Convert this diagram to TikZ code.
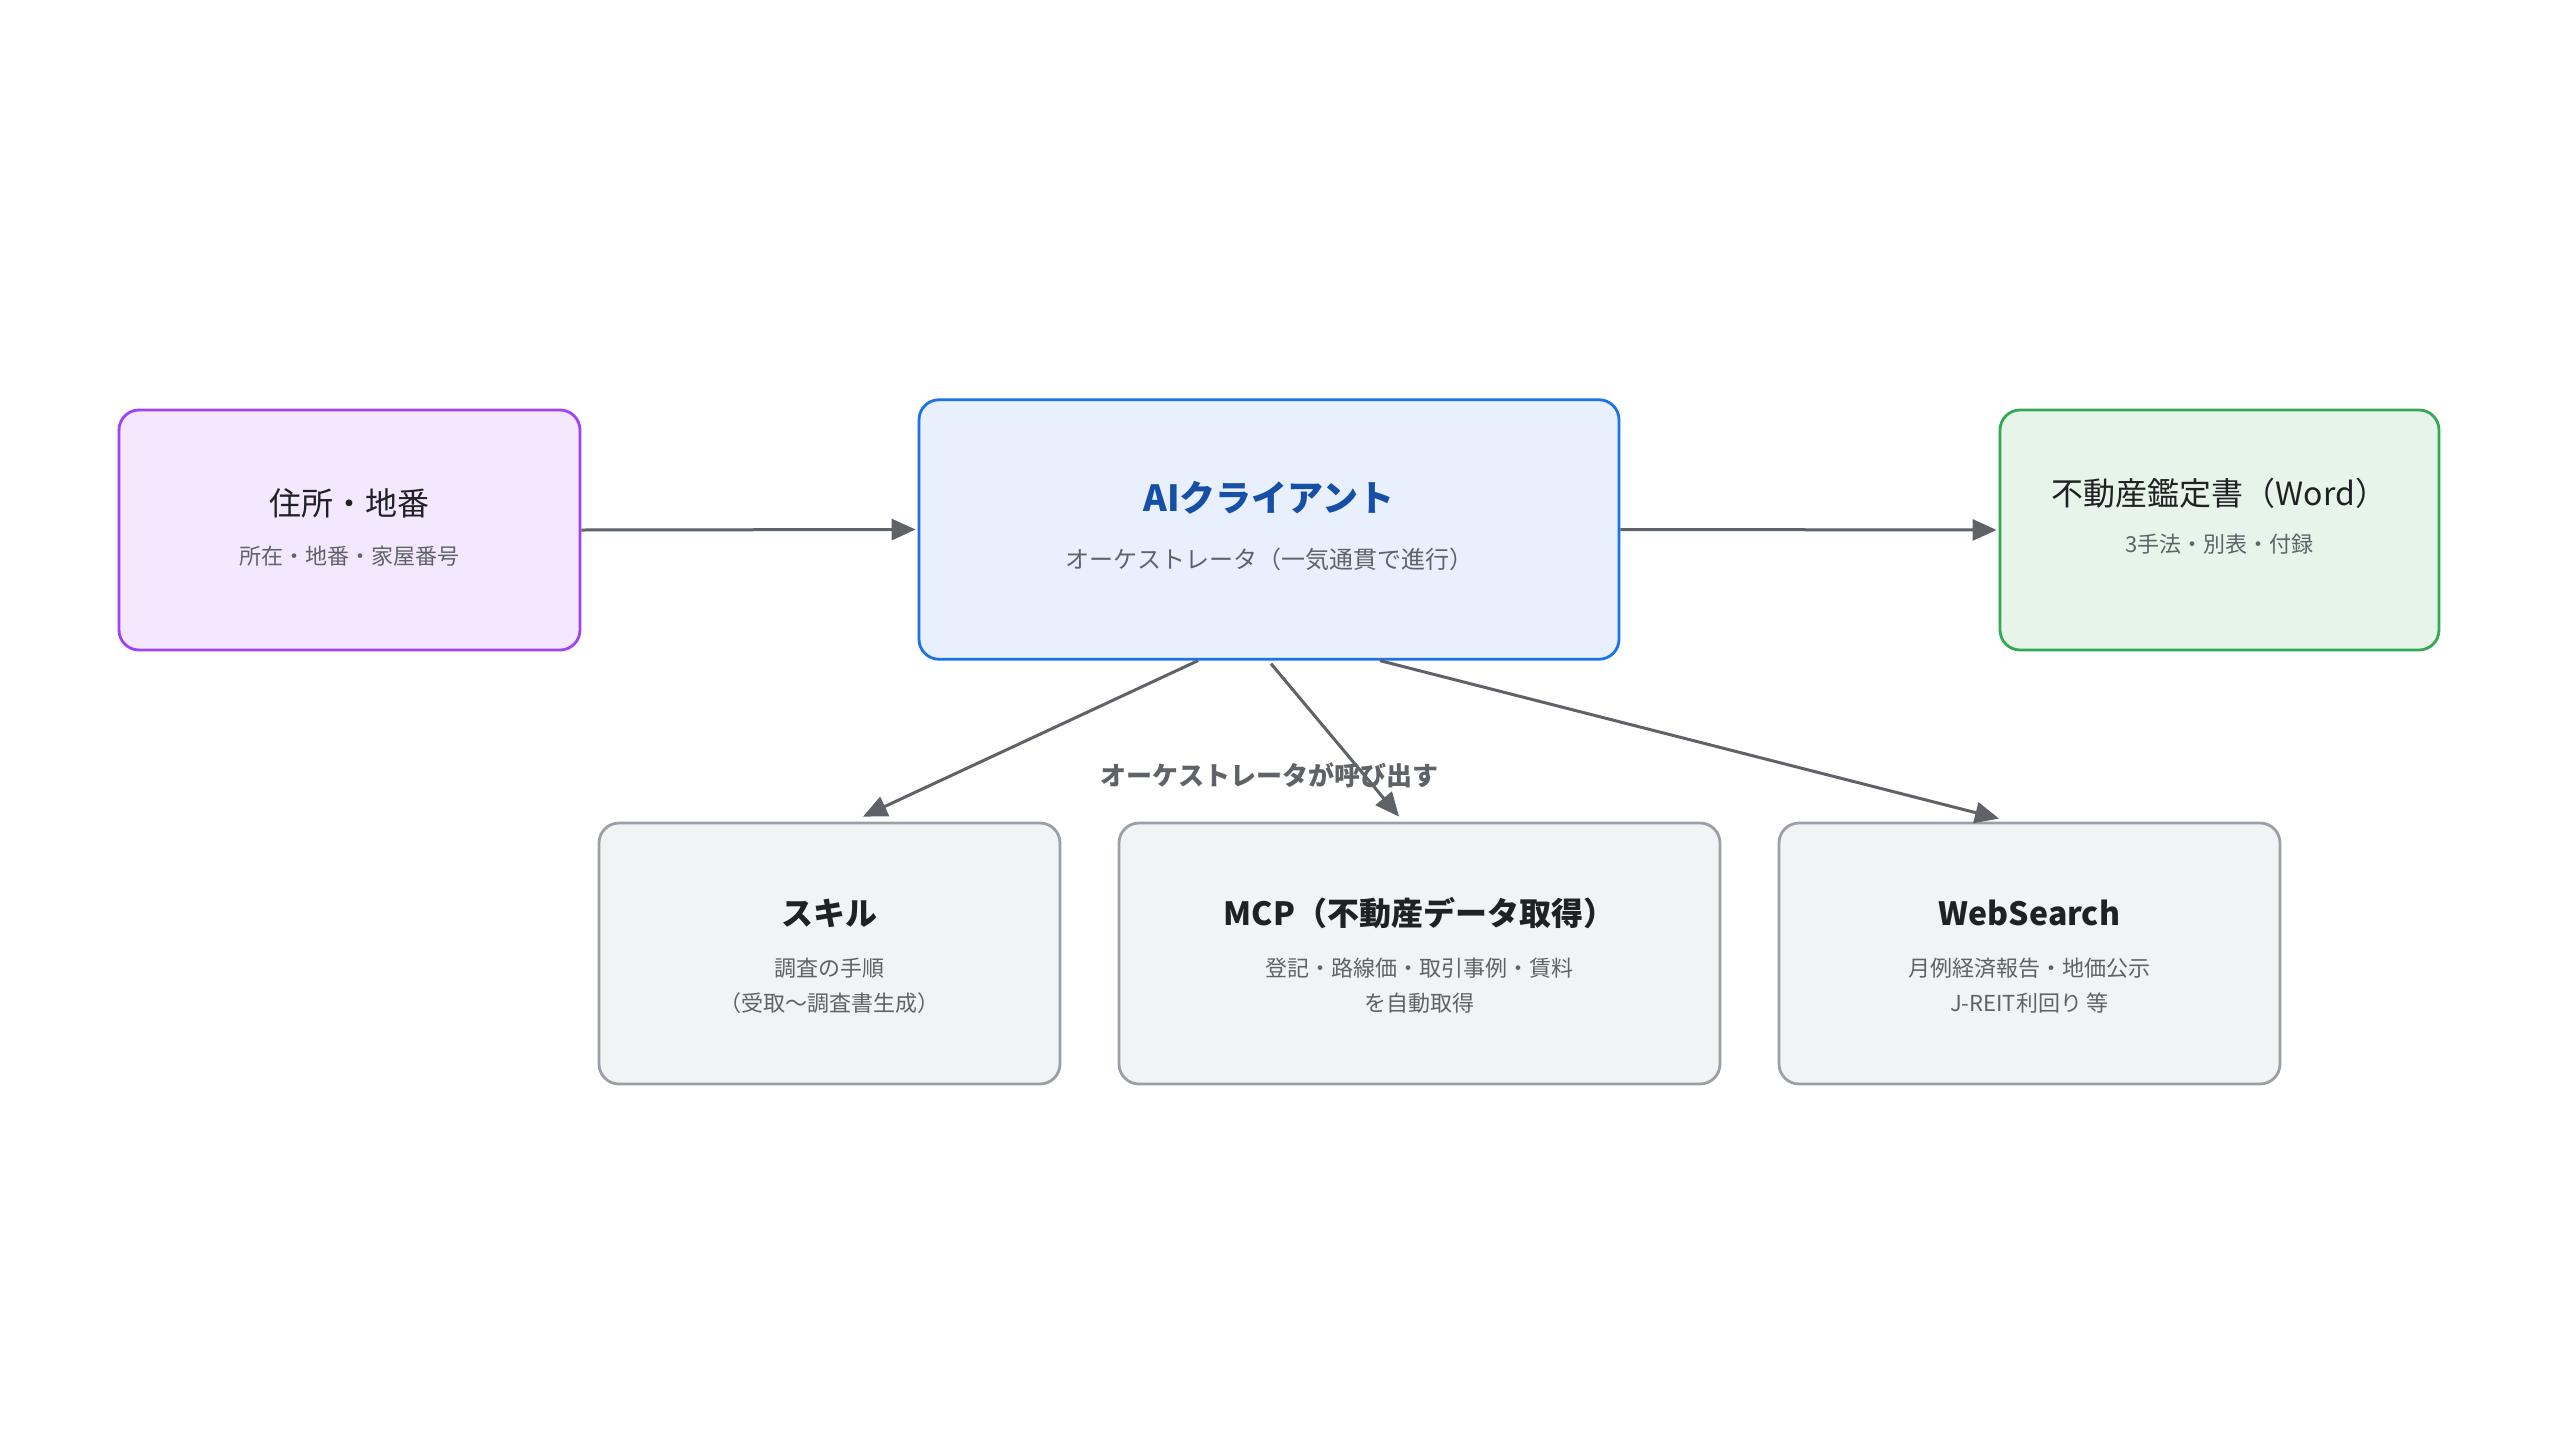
\documentclass[tikz,border=0pt]{standalone}
\usepackage{fontspec}
\setmainfont{Noto Sans CJK JP}
\usetikzlibrary{arrows.meta}
\definecolor{purpleline}{HTML}{A142F4}
\definecolor{purplefill}{HTML}{F3E8FD}
\definecolor{blueline}{HTML}{1A73E8}
\definecolor{bluefill}{HTML}{E8F0FE}
\definecolor{bluetext}{HTML}{174EA6}
\definecolor{greenline}{HTML}{34A853}
\definecolor{greenfill}{HTML}{E6F4EA}
\definecolor{grayline}{HTML}{9AA0A6}
\definecolor{grayfill}{HTML}{F1F3F4}
\definecolor{arrowgray}{HTML}{5F6368}
\definecolor{titletext}{HTML}{202124}
\definecolor{subtext}{HTML}{5F6368}
\begin{document}
\begin{tikzpicture}[x=0.5pt,y=-0.5pt,
  box/.style={draw, rounded corners=10pt, line width=1.4pt, inner sep=0pt},
  ttl/.style={inner sep=0pt, text=titletext, font=\fontsize{16pt}{19pt}\selectfont},
  bttl/.style={inner sep=0pt, text=titletext, font=\fontsize{16pt}{19pt}\selectfont\bfseries},
  sub/.style={inner sep=0pt, text=subtext, font=\fontsize{11pt}{13pt}\selectfont},
  conn/.style={draw=arrowgray, line width=1.5pt, -{Triangle[length=12pt,width=10.5pt]}},
  lbl/.style={inner sep=0pt, text=subtext, font=\fontsize{13pt}{15pt}\selectfont\bfseries}]
\useasboundingbox (0,0) rectangle (2560,1440);
\fill[white] (0,0) rectangle (2560,1440);

% boxes
\node[box, draw=purpleline, fill=purplefill, minimum width=230.5pt, minimum height=120pt] (addr) at (349.5,530) {};
\node[box, draw=blueline, fill=bluefill, minimum width=350pt, minimum height=129.75pt] (ai) at (1269,529.5) {};
\node[box, draw=greenline, fill=greenfill, minimum width=219.5pt, minimum height=120pt] (doc) at (2219.5,530) {};
\node[box, draw=grayline, fill=grayfill, minimum width=230.5pt, minimum height=130.5pt] (skill) at (829.5,953.5) {};
\node[box, draw=grayline, fill=grayfill, minimum width=300.5pt, minimum height=130.5pt] (mcp) at (1419.5,953.5) {};
\node[box, draw=grayline, fill=grayfill, minimum width=250.5pt, minimum height=130.5pt] (web) at (2029.5,953.5) {};

% texts
\node[ttl] (addrT) at (349.5,503) {住所・地番};
\node[sub] (addrS) at (349.5,556) {所在・地番・家屋番号};
\node[inner sep=0pt, text=bluetext, font=\fontsize{18pt}{21pt}\selectfont\bfseries] (aiT) at (1269,498) {AIクライアント};
\node[sub, font=\fontsize{12pt}{14pt}\selectfont] (aiS) at (1269,559) {オーケストレータ（一気通貫で進行）};
\node[ttl] (docT) at (2219.5,493) {不動産鑑定書（Word）};
\node[sub] (docS) at (2219.5,544) {3手法・別表・付録};
\node[bttl] (skillT) at (829.5,913) {スキル};
\node[sub] (skillS1) at (829.5,968) {調査の手順};
\node[sub] (skillS2) at (829.5,1003) {（受取〜調査書生成）};
\node[bttl] (mcpT) at (1419.5,913) {MCP（不動産データ取得）};
\node[sub] (mcpS1) at (1419.5,968) {登記・路線価・取引事例・賃料};
\node[sub] (mcpS2) at (1419.5,1003) {を自動取得};
\node[bttl] (webT) at (2029.5,913) {WebSearch};
\node[sub] (webS1) at (2029.5,968) {月例経済報告・地価公示};
\node[sub] (webS2) at (2029.5,1003) {J-REIT利回り 等};

% connectors
\draw[conn, shorten >=1pt] (addr.east) -- (ai.west);
\draw[conn, shorten >=1pt] (ai.east) -- (doc.west);
\draw[conn] ([xshift=-35.5pt]ai.south) -- ([xshift=16.75pt,yshift=2.5pt]skill.north);
\draw[conn] ([xshift=1pt,yshift=-1.5pt]ai.south) -- ([xshift=-10.25pt,yshift=2.5pt]mcp.north);
\draw[conn] ([xshift=55.5pt]ai.south) -- ([xshift=-15.25pt,yshift=1.5pt]web.north);
\node[lbl] (callLbl) at (1269,775) {オーケストレータが呼び出す};
\end{tikzpicture}
\end{document}
